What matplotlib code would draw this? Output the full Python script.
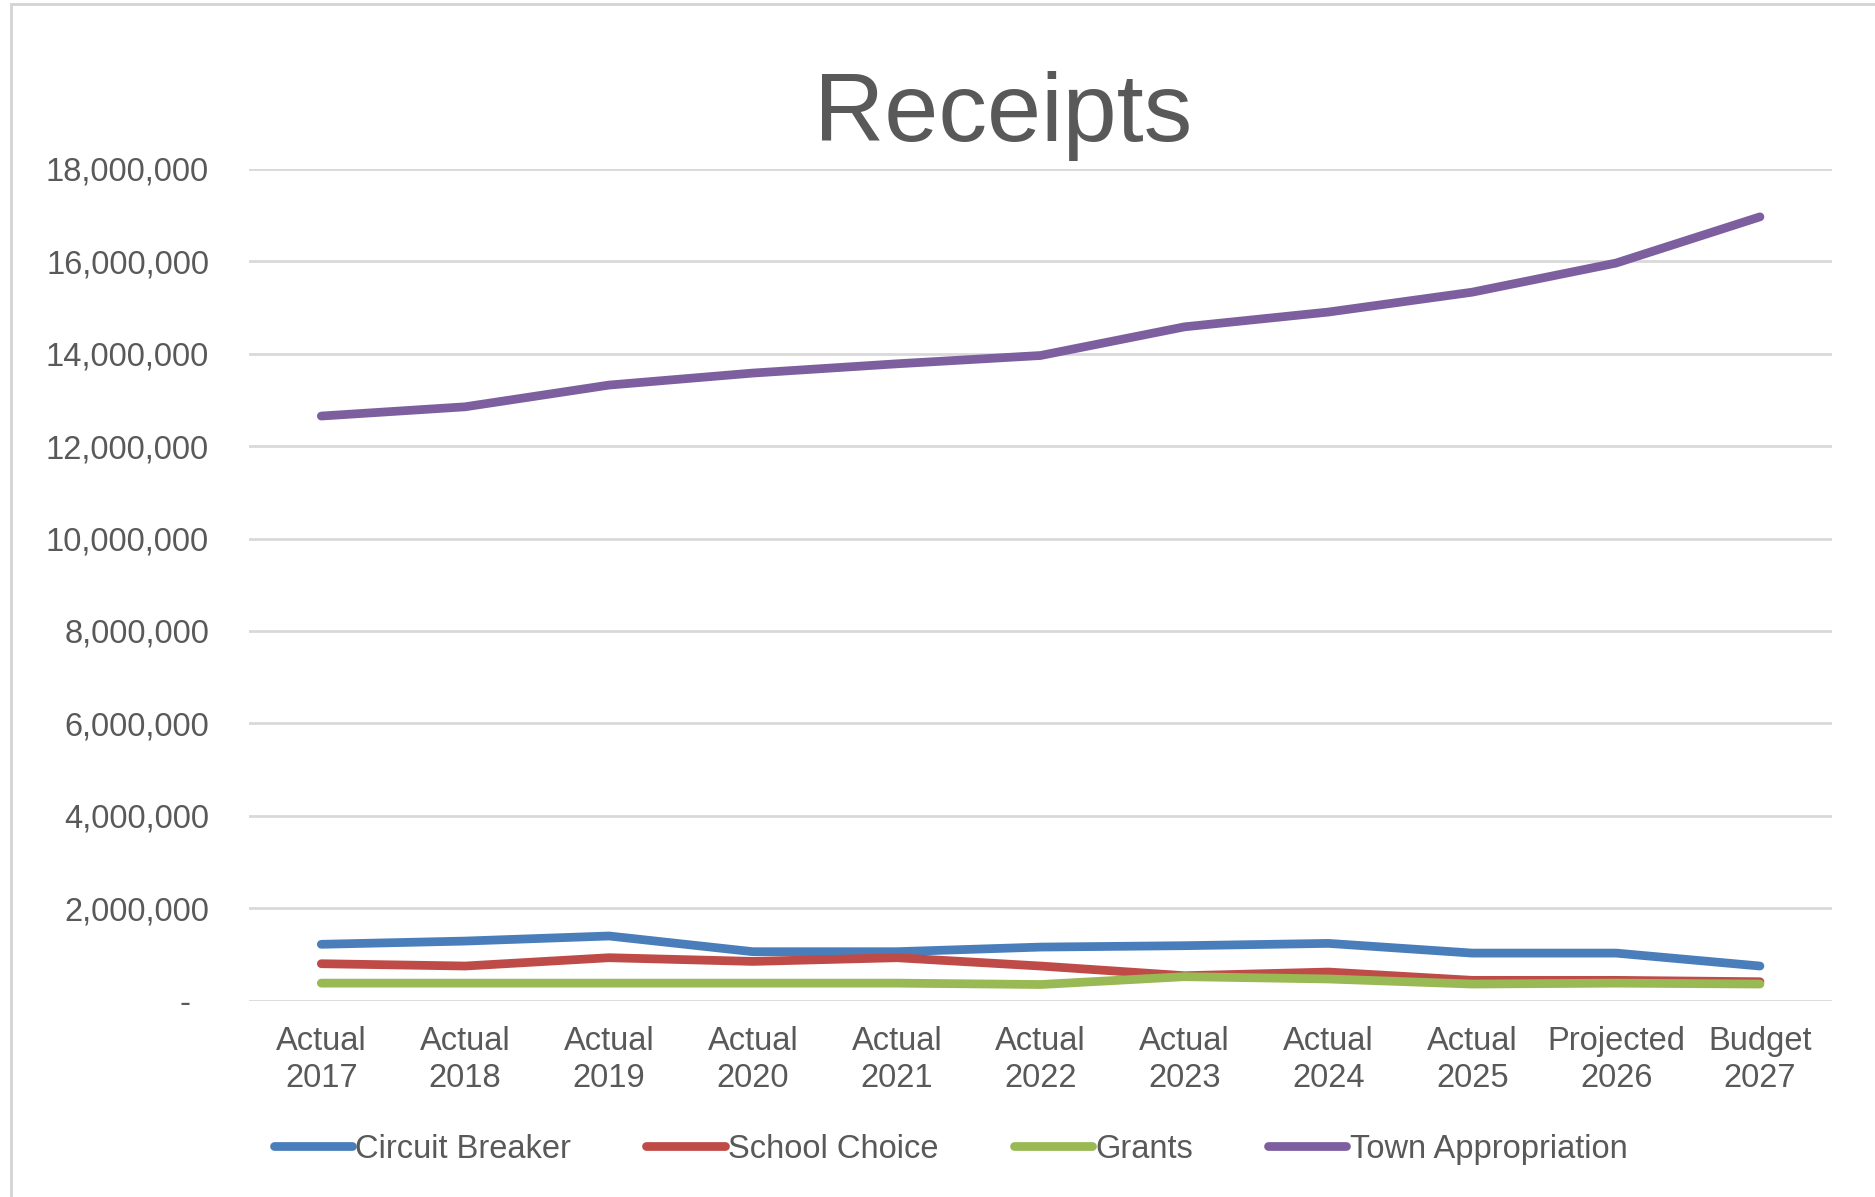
import matplotlib
matplotlib.use("Agg")
import matplotlib.pyplot as plt
from matplotlib.patches import Rectangle
from matplotlib.ticker import FuncFormatter

categories = ["Actual\n2017", "Actual\n2018", "Actual\n2019", "Actual\n2020", "Actual\n2021",
              "Actual\n2022", "Actual\n2023", "Actual\n2024", "Actual\n2025", "Projected\n2026",
              "Budget\n2027"]
circuit_breaker = [1220000, 1290000, 1400000, 1060000, 1060000, 1160000, 1190000, 1240000,
                   1030000, 1030000, 750000]
school_choice = [800000, 750000, 930000, 850000, 930000, 750000, 540000, 620000, 440000,
                 440000, 410000]
grants = [380000, 380000, 380000, 380000, 380000, 350000, 520000, 470000, 360000, 380000,
          360000]
town_appropriation = [12650000, 12850000, 13320000, 13580000, 13780000, 13960000, 14580000,
                      14900000, 15330000, 15960000, 16960000]
series_names = ["Circuit Breaker", "School Choice", "Grants", "Town Appropriation"]
y_ticks = [0, 2000000, 4000000, 6000000, 8000000, 10000000, 12000000, 14000000, 16000000,
           18000000]

colors = ["#4a7ebb", "#be4b48", "#98b954", "#7d5fa0"]
font = "Liberation Sans"
text_color = "#595959"
fs = 23.5

fig = plt.figure(figsize=(18.75, 11.97), dpi=100)
fig.patches.append(Rectangle((0.006, -0.05), 1.2, 1.047, transform=fig.transFigure,
                             fill=False, edgecolor="#d4d4d4", linewidth=2))
ax = fig.add_axes([0.133, 0.164, 0.844, 0.695])

x = list(range(len(categories)))
for vals, name, c in zip([circuit_breaker, school_choice, grants, town_appropriation],
                         series_names, colors):
    ax.plot(x, vals, color=c, linewidth=6.3, label=name, solid_capstyle="round",
            solid_joinstyle="round", zorder=3)

ax.set_xlim(-0.5, len(categories) - 0.5)
ax.set_ylim(0, 18000000)
ax.set_yticks(y_ticks)
ax.yaxis.set_major_formatter(FuncFormatter(lambda v, p: "-  " if v == 0 else f"{int(v):,}"))
ax.set_xticks(x)
ax.set_xticklabels(categories, linespacing=1.27)
ax.grid(axis="y", color="#d9d9d9", linewidth=2)
ax.set_axisbelow(True)
for s in ax.spines.values():
    s.set_visible(False)
ax.tick_params(axis="both", length=0, labelsize=fs, labelcolor=text_color)
ax.tick_params(axis="y", pad=29)
ax.tick_params(axis="x", pad=18)
for lbl in ax.get_xticklabels() + ax.get_yticklabels():
    lbl.set_fontfamily(font)

fig.text(0.535, 0.882, "Receipts", ha="center", va="baseline", fontsize=70,
         color=text_color, fontfamily=font)

leg = fig.legend(loc="center", bbox_to_anchor=(0.507, 0.040), ncol=4, frameon=False,
                 handlelength=2.4, handletextpad=0.1, columnspacing=2.3,
                 prop={"family": font, "size": fs})
for t in leg.get_texts():
    t.set_color(text_color)

fig.savefig("out.png", dpi=100, facecolor="white")
